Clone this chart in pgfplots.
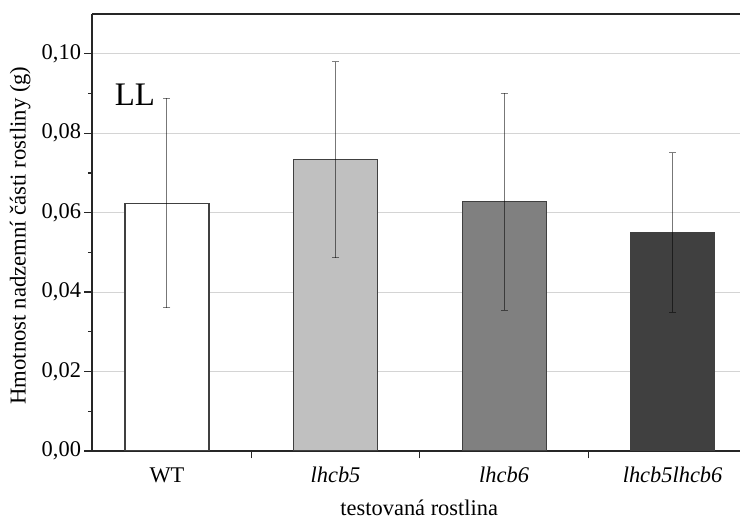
\documentclass[border=0pt]{standalone}
\usepackage{pgfplots}
\pgfplotsset{compat=1.18}
\usepackage{fontspec}
\setmainfont{Liberation Serif}
\usetikzlibrary{calc}
\definecolor{gridgray}{HTML}{D4D4D4}
\definecolor{barline}{HTML}{404040}
\pgfplotsset{
  errstyle/.style={
    draw=barline, line width=1.1bp,
    error bars/y dir=both, error bars/y explicit,
    error bars/error bar style={black, opacity=0.5, line width=1bp},
    error bars/error mark options={rotate=90, mark size=3.5bp, black, opacity=0.5, line width=1bp},
  }
}
\begin{document}
\begin{tikzpicture}
\begin{axis}[
  name=ax,
  scale only axis,
  width=648bp, height=437bp,
  xmin=-0.445, xmax=3.4,
  ymin=0, ymax=0.11,
  axis x line*=bottom,
  axis y line*=left,
  axis line style={line width=1.3bp, black!85},
  tick align=outside,
  major tick length=7.5bp,
  minor tick length=4bp,
  every tick/.style={line width=1.2bp, black!85},
  ytick={0,0.02,0.04,0.06,0.08,0.10},
  minor ytick={0.01,0.03,0.05,0.07,0.09},
  ymajorgrids,
  major grid style={gridgray, line width=0.8bp},
  xtick={0.5,1.5,2.5},
  xticklabels={},
  extra x ticks={0,1,2,3},
  extra x tick labels={WT,\textit{lhcb5},\textit{lhcb6},\textit{lhcb5lhcb6}},
  extra x tick style={grid=none, major tick length=0pt},
  xticklabel style={anchor=base, yshift=-32bp},
  /pgf/number format/assume math mode=true,
  yticklabel style={/pgf/number format/.cd, fixed, fixed zerofill, precision=2, use comma},
  ticklabel style={font=\fontsize{22.5}{27}\selectfont},
  xlabel={testovaná rostlina},
  ylabel={Hmotnost nadzemní části rostliny (g)},
  every axis x label/.style={at={(axis description cs:0.505,-0.129)}, anchor=center, inner sep=0pt, font=\fontsize{22.5}{27}\selectfont},
  every axis y label/.style={at={(axis description cs:-0.111,0.493)}, rotate=90, anchor=center, inner sep=0pt, font=\fontsize{22.8}{27}\selectfont},
  ybar, bar width=84bp, bar shift=0pt,
]
\addplot[errstyle, fill=white] coordinates {(0,0.0624) +- (0,0.0264)};
\addplot[errstyle, fill={rgb,255:red,192;green,192;blue,192}] coordinates {(1,0.0733) +- (0,0.0247)};
\addplot[errstyle, fill={rgb,255:red,128;green,128;blue,128}] coordinates {(2,0.0627) +- (0,0.0273)};
\addplot[errstyle, fill={rgb,255:red,64;green,64;blue,64}] coordinates {(3,0.0550) +- (0,0.0201)};
\node[font=\fontsize{33}{40}\selectfont, inner sep=0pt] at (axis cs:-0.19,0.0897) {LL};
\end{axis}
\draw[line width=1.3bp, black!85] (ax.north west) -- (ax.north east);
\pgfresetboundingbox
\path ($(ax.south west)+(-92bp,-67bp)$) rectangle ($(ax.north east)+(0bp,14bp)$);
\end{tikzpicture}
\end{document}
